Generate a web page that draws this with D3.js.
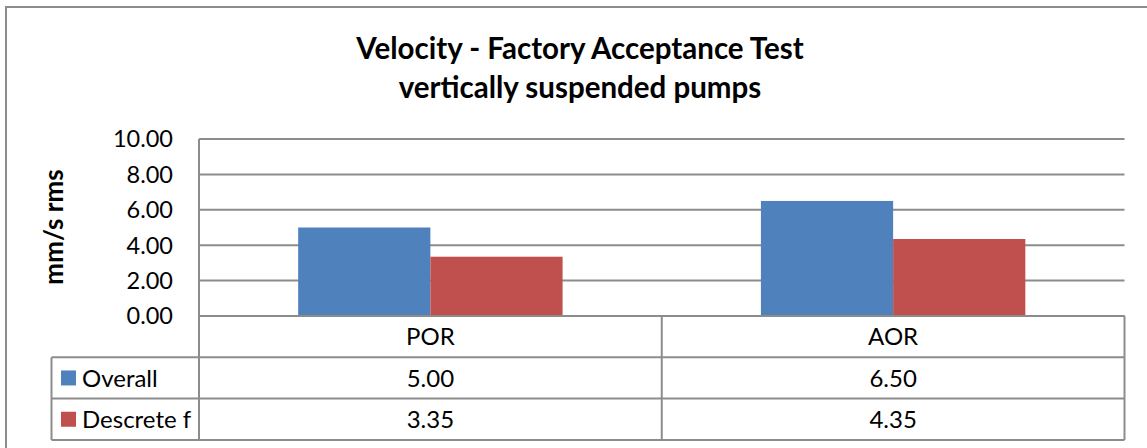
<!DOCTYPE html>
<html>
<head>
<meta charset="utf-8">
<script src="https://cdn.jsdelivr.net/npm/d3@7"></script>
<style>
  body { margin: 0; background: #fff; overflow: hidden; }
  text { font-family: Lato, "Open Sans", sans-serif; fill: #000; }
</style>
</head>
<body>
<div id="chart"></div>
<script>
const categories = ["POR", "AOR"];
const seriesNames = ["Overall", "Descrete f"];
const overallValues = [5.00, 6.50];
const descreteValues = [3.35, 4.35];
const yTicks = [0, 2, 4, 6, 8, 10];
const seriesColors = ["#4F81BD", "#C0504D"];

const W = 1147, H = 448;
const plot = { left: 199, right: 1124.5, top: 139, bottom: 316 };
const rowH = 41.3;
const lineColor = "#8c8c8c";

const series = seriesNames.map((name, i) => ({
  name: name,
  color: seriesColors[i],
  values: i === 0 ? overallValues : descreteValues
}));

const svg = d3.select("#chart").append("svg")
  .attr("width", W)
  .attr("height", H);

// outer chart border (cut off on right and bottom)
svg.append("rect")
  .attr("x", 6).attr("y", 7)
  .attr("width", 1170).attr("height", 480)
  .attr("fill", "none")
  .attr("stroke", lineColor)
  .attr("stroke-width", 2);

// title
const title = svg.append("text")
  .attr("x", 580)
  .attr("text-anchor", "middle")
  .style("font-weight", "bold")
  .style("font-size", "29.5px");
title.append("tspan").attr("x", 580).attr("y", 59).text("Velocity - Factory Acceptance Test");
title.append("tspan").attr("x", 580).attr("y", 98).text("vertically suspended pumps");

const x = d3.scaleBand()
  .domain(categories)
  .range([plot.left, plot.right])
  .padding(0);

const xSeries = d3.scaleBand()
  .domain(seriesNames)
  .range([0, x.bandwidth()])
  .paddingInner(0)
  .paddingOuter(0.75);

const y = d3.scaleLinear()
  .domain([0, 10])
  .range([plot.bottom, plot.top]);

// gridlines
svg.append("g")
  .selectAll("line")
  .data(yTicks)
  .join("line")
  .attr("x1", plot.left)
  .attr("x2", plot.right)
  .attr("y1", d => y(d))
  .attr("y2", d => y(d))
  .attr("stroke", lineColor)
  .attr("stroke-width", 2);

// y tick labels
svg.append("g")
  .selectAll("text")
  .data(yTicks)
  .join("text")
  .attr("x", 173)
  .attr("y", d => y(d))
  .attr("dy", "0.36em")
  .attr("text-anchor", "end")
  .style("font-size", "23.5px")
  .text(d => d3.format(".2f")(d));

// y axis title
svg.append("text")
  .attr("transform", "translate(63, 227) rotate(-90)")
  .attr("text-anchor", "middle")
  .style("font-weight", "bold")
  .style("font-size", "26px")
  .text("mm/s rms");

// bars
const barGroups = svg.append("g")
  .selectAll("g")
  .data(series)
  .join("g")
  .attr("fill", d => d.color);

barGroups.selectAll("rect")
  .data(s => s.values.map((v, i) => ({ cat: categories[i], name: s.name, value: v })))
  .join("rect")
  .attr("x", d => x(d.cat) + xSeries(d.name))
  .attr("y", d => y(d.value))
  .attr("width", xSeries.bandwidth())
  .attr("height", d => y(0) - y(d.value));

// re-draw baseline above bars
svg.append("line")
  .attr("x1", plot.left).attr("x2", plot.right)
  .attr("y1", y(0)).attr("y2", y(0))
  .attr("stroke", lineColor)
  .attr("stroke-width", 2);

// data table
const tableLeft = 51.5;
const table = svg.append("g").attr("stroke", lineColor).attr("stroke-width", 2).attr("fill", "none");
const rowYs = [plot.bottom, plot.bottom + rowH, plot.bottom + 2 * rowH, plot.bottom + 3 * rowH];

// vertical axis line through plot and table
table.append("line")
  .attr("x1", plot.left).attr("x2", plot.left)
  .attr("y1", plot.top).attr("y2", rowYs[3]);
// right edge of table
table.append("line")
  .attr("x1", plot.right).attr("x2", plot.right)
  .attr("y1", rowYs[0]).attr("y2", rowYs[3]);
// category divider
table.append("line")
  .attr("x1", x(categories[1])).attr("x2", x(categories[1]))
  .attr("y1", rowYs[0]).attr("y2", rowYs[3]);
// left edge of legend column
table.append("line")
  .attr("x1", tableLeft).attr("x2", tableLeft)
  .attr("y1", rowYs[1]).attr("y2", rowYs[3]);
// horizontal rows
rowYs.slice(1).forEach(ry => {
  table.append("line")
    .attr("x1", tableLeft).attr("x2", plot.right)
    .attr("y1", ry).attr("y2", ry);
});

// category header labels
svg.append("g")
  .selectAll("text")
  .data(categories)
  .join("text")
  .attr("x", d => x(d) + x.bandwidth() / 2)
  .attr("y", (rowYs[0] + rowYs[1]) / 2)
  .attr("dy", "0.36em")
  .attr("text-anchor", "middle")
  .style("font-size", "24px")
  .text(d => d);

// series rows
series.forEach((s, si) => {
  const cy = (rowYs[si + 1] + rowYs[si + 2]) / 2;
  svg.append("rect")
    .attr("x", 61).attr("y", cy - 7.5)
    .attr("width", 15).attr("height", 15)
    .attr("fill", s.color);
  svg.append("text")
    .attr("x", 82)
    .attr("y", cy)
    .attr("dy", "0.36em")
    .style("font-size", "24px")
    .text(s.name);
  svg.append("g")
    .selectAll("text")
    .data(s.values)
    .join("text")
    .attr("x", (d, i) => x(categories[i]) + x.bandwidth() / 2)
    .attr("y", cy)
    .attr("dy", "0.36em")
    .attr("text-anchor", "middle")
    .style("font-size", "24px")
    .text(d => d3.format(".2f")(d));
});
</script>
</body>
</html>
